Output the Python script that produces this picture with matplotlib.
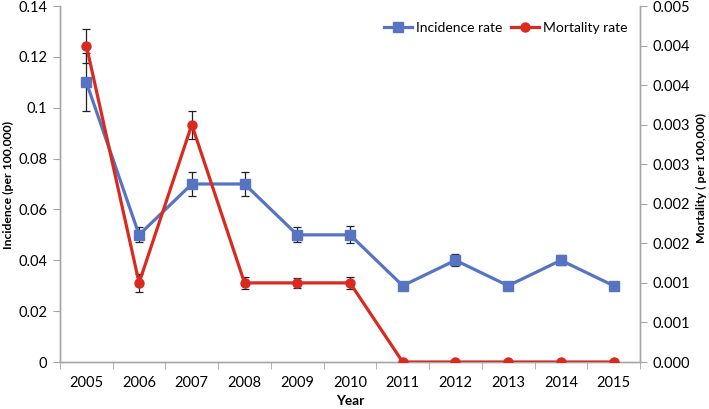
import matplotlib
matplotlib.use("Agg")
import matplotlib.pyplot as plt
from matplotlib.ticker import FixedLocator
from matplotlib.lines import Line2D
import numpy as np

years = ["2005", "2006", "2007", "2008", "2009", "2010", "2011", "2012", "2013", "2014", "2015"]
incidence = [0.11, 0.05, 0.07, 0.07, 0.05, 0.05, 0.03, 0.04, 0.03, 0.04, 0.03]
incidence_err = [0.0114, 0.003, 0.0047, 0.0047, 0.003, 0.0033, 0.001, 0.0024, 0.0016, 0.002, 0.001]
mortality = [0.004, 0.001, 0.003, 0.001, 0.001, 0.001, 0.0, 0.0, 0.0, 0.0, 0.0]
mortality_err = [0.000215, 0.000114, 0.000177, 0.00008, 0.00006, 0.00008, 0, 0, 0, 0, 0]
left_ticks = [0, 0.02, 0.04, 0.06, 0.08, 0.1, 0.12, 0.14]
left_labels = ["0", "0.02", "0.04", "0.06", "0.08", "0.1", "0.12", "0.14"]
right_ticks = [0, 0.0005, 0.001, 0.0015, 0.002, 0.0025, 0.003, 0.0035, 0.004, 0.0045]
right_labels = ["0.000", "0.001", "0.001", "0.002", "0.002", "0.003", "0.003", "0.004", "0.004", "0.005"]

plt.rcParams['font.family'] = ['Lato', 'DejaVu Sans']
BLUE = "#5674C2"
RED = "#DA2A1F"
GRAY = "#A6A6A6"
FS = 10.5
LFS = 8.8

fig = plt.figure(figsize=(7.09, 4.09), dpi=100)
ax = fig.add_axes([60/709, 1-362/409, 580/709, 356/409])
ax2 = ax.twinx()

x = np.arange(len(years))
ax.errorbar(x, incidence, yerr=incidence_err, color=BLUE, lw=2.3, marker='s', ms=6.5,
            ecolor='#222222', elinewidth=0.9, capsize=3, capthick=0.9, zorder=3)
ax2.errorbar(x, mortality, yerr=mortality_err, color=RED, lw=2.3, marker='o', ms=6.5,
             ecolor='#222222', elinewidth=0.9, capsize=3, capthick=0.9, zorder=3)

ax.set_xlim(-0.5, len(years) - 0.5)
ax.set_ylim(0, 0.14)
ax2.set_ylim(0, 0.0045)
ax.set_xticks(x)
ax.set_xticklabels(years, fontsize=FS)
ax.xaxis.set_minor_locator(FixedLocator(np.arange(-0.5, len(years), 1)))
ax.tick_params(axis='x', which='major', length=0, pad=10)
ax.tick_params(axis='x', which='minor', length=5, color=GRAY, direction='out')
ax.set_yticks(left_ticks)
ax.set_yticklabels(left_labels, fontsize=FS)
ax.tick_params(axis='y', length=5, color=GRAY, direction='out', pad=4)
ax2.set_yticks(right_ticks)
ax2.set_yticklabels(right_labels, fontsize=FS)
ax2.tick_params(axis='y', length=5, color=GRAY, direction='out', pad=4)

for a in (ax, ax2):
    a.spines['top'].set_visible(False)
    for s in ('left', 'right', 'bottom'):
        a.spines[s].set_color(GRAY)
        a.spines[s].set_linewidth(1.0)

ax.set_xlabel("Year", fontsize=LFS + 1, fontweight='bold', labelpad=4)
fig.text(8/709, 1-185/409, "Incidence (per 100,000)", rotation=90, ha='center', va='center',
         fontsize=LFS, fontweight='bold')
fig.text(701/709, 1-178/409, "Mortality ( per 100,000)", rotation=90, ha='center', va='center',
         fontsize=LFS, fontweight='bold')

handles = [Line2D([], [], color=BLUE, lw=2.3, marker='s', ms=6.5),
           Line2D([], [], color=RED, lw=2.3, marker='o', ms=6.5)]
ax2.legend(handles, ["Incidence rate", "Mortality rate"], loc='upper right',
           bbox_to_anchor=(1.0, 0.99), ncol=2, frameon=False, fontsize=10,
           handlelength=2.0, columnspacing=0.6, handletextpad=0.3)

fig.savefig("out.png", dpi=100)
